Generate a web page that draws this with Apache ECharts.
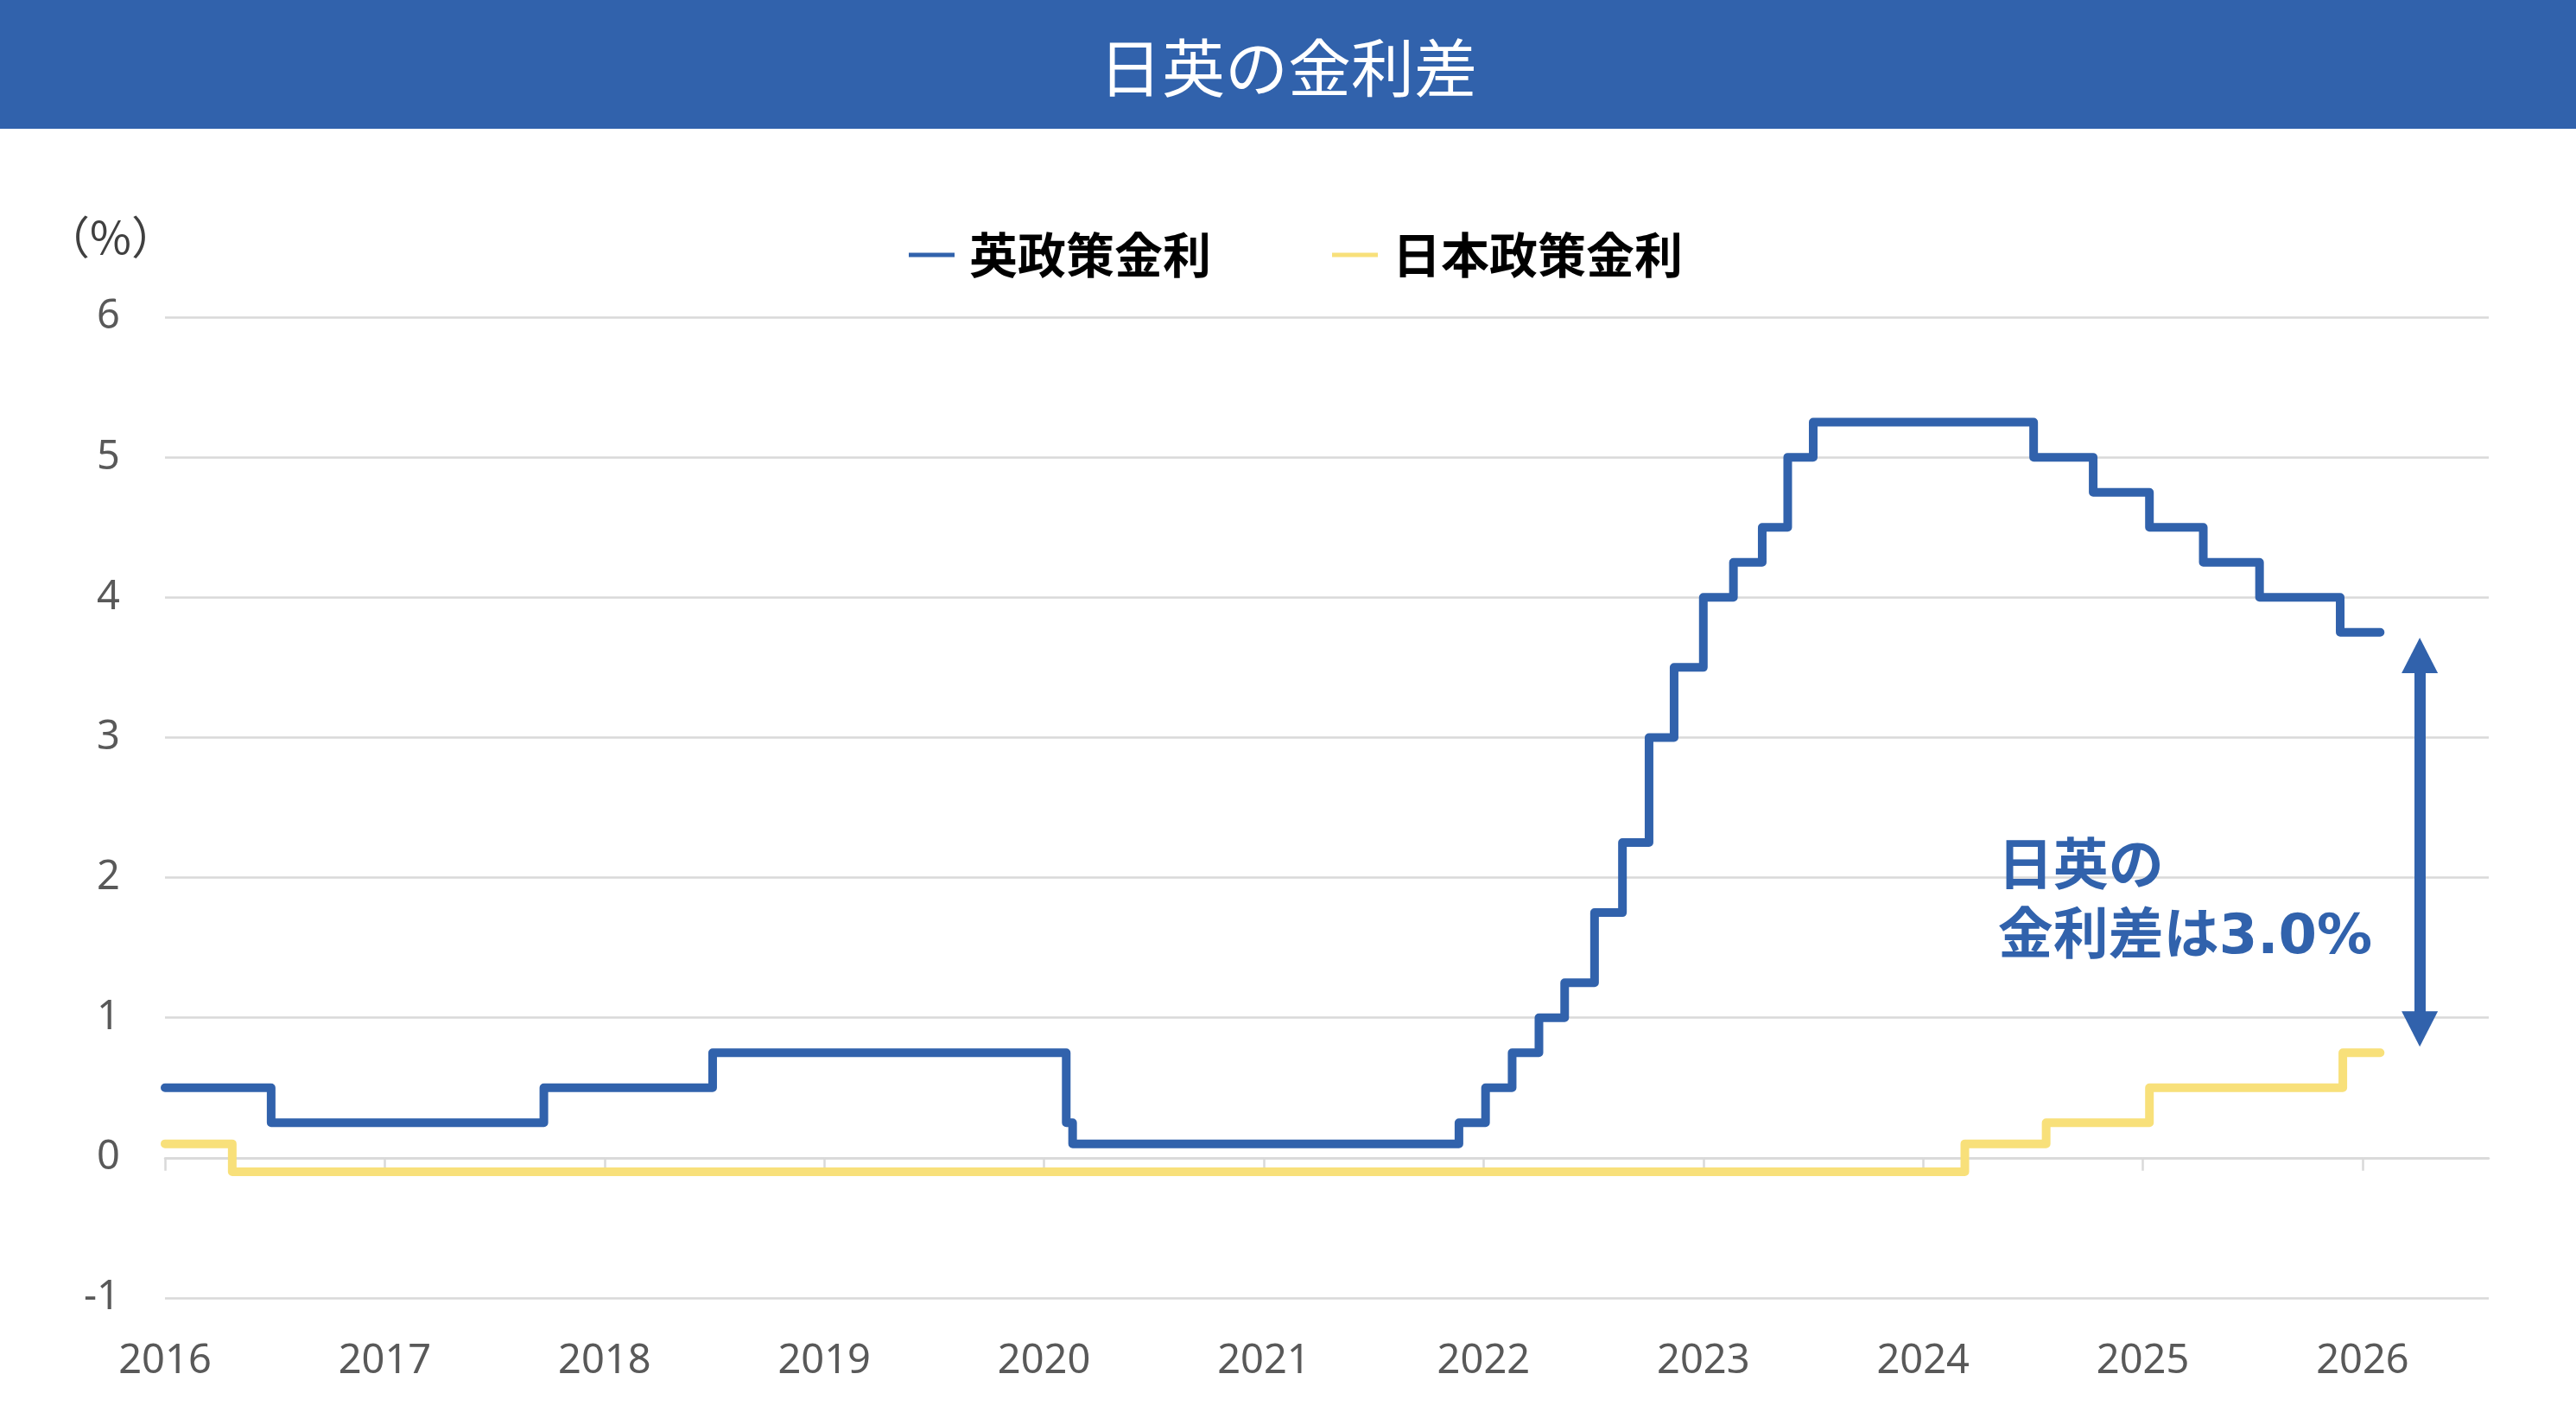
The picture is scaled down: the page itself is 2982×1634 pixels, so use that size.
<!DOCTYPE html>
<html><head><meta charset="utf-8">
<script src="https://cdn.jsdelivr.net/npm/echarts@6/dist/echarts.min.js"></script>
<style>html,body{margin:0;padding:0;background:#fff}#c{width:2982px;height:1634px}</style>
</head><body><div id="c"></div>
<script>
// ---- data (decimal years) ----
const yearTicks = [2016, 2017, 2018, 2019, 2020, 2021, 2022, 2023, 2024, 2025, 2026];
const ukDates = [2016.0, 2016.483, 2017.724, 2018.492, 2020.101, 2020.13, 2021.888, 2022.009, 2022.13, 2022.252, 2022.369, 2022.505, 2022.632, 2022.753, 2022.867, 2023.0, 2023.137, 2023.268, 2023.384, 2023.5, 2024.503, 2024.774, 2025.03, 2025.275, 2025.531, 2025.898, 2026.08];
const ukRates = [0.5, 0.25, 0.5, 0.75, 0.25, 0.1, 0.25, 0.5, 0.75, 1.0, 1.25, 1.75, 2.25, 3.0, 3.5, 4.0, 4.25, 4.5, 5.0, 5.25, 5.0, 4.75, 4.5, 4.25, 4.0, 3.75, 3.75];
const jpDates = [2016.0, 2016.306, 2024.19, 2024.56, 2025.03, 2025.91, 2026.08];
const jpRates = [0.1, -0.1, 0.1, 0.25, 0.5, 0.75, 0.75];
const seriesNames = ['英政策金利', '日本政策金利'];
const titleText = '日英の金利差';
const unitText = '（%）';
const noteText = '日英の\n金利差は3.0%';
const gapArrow = { x: 2026.26, top: 3.585, bottom: 0.92 };
const notePos = { x: 2024.34, y: 1.81 };

const BLUE = '#3162ac', YELLOW = '#f8e07a', GRID = '#d9d9d9', LABEL = '#595959';
const CJK = "'Noto Sans CJK JP', 'Noto Sans', sans-serif";
const NUM = "'Noto Sans', 'Noto Sans CJK JP', sans-serif";
const xMin = 2016, xMax = 2026.574;

const pair = (xs, ys) => xs.map((x, i) => [x, ys[i]]);

const chart = echarts.init(document.getElementById('c'), null, { renderer: 'canvas' });
chart.setOption({
  backgroundColor: '#fff',
  animation: false,
  title: {
    text: titleText, left: 'center', top: 42, padding: 0,
    textStyle: { color: '#fff', fontSize: 73, fontWeight: 'normal', fontFamily: CJK }
  },
  legend: {
    data: seriesNames, left: 1052, top: 267, icon: 'rect', padding: 0,
    itemWidth: 53, itemHeight: 5, itemGap: 140,
    textStyle: { fontSize: 56, fontWeight: 'bold', color: '#000', fontFamily: CJK, padding: [0, 0, 0, 12] }
  },
  grid: { left: 191, right: 101, top: 367, bottom: 132, containLabel: false },
  xAxis: [
    {
      type: 'value', min: xMin, max: xMax,
      axisLine: { show: true, onZero: true, lineStyle: { color: GRID, width: 2.5 } },
      axisTick: { show: true, customValues: yearTicks, length: 15, lineStyle: { color: GRID, width: 2.5 } },
      axisLabel: { show: false },
      splitLine: { show: false }
    },
    {
      type: 'value', min: xMin, max: xMax, position: 'bottom',
      axisLine: { show: false, onZero: false },
      axisTick: { show: false },
      splitLine: { show: false },
      axisLabel: {
        show: true, customValues: yearTicks, margin: 50,
        fontSize: 47, color: LABEL, fontFamily: NUM,
        formatter: v => String(Math.round(v))
      }
    }
  ],
  yAxis: {
    type: 'value', min: -1, max: 6, interval: 1,
    axisLine: { show: false }, axisTick: { show: false },
    splitLine: { show: true, lineStyle: { color: GRID, width: 2.5 } },
    axisLabel: { margin: 52, fontSize: 47, color: LABEL, fontFamily: NUM }
  },
  series: [
    {
      name: seriesNames[0], type: 'line', step: 'end', data: pair(ukDates, ukRates),
      showSymbol: false, symbol: 'none', z: 3,
      lineStyle: { color: BLUE, width: 10, join: 'round', cap: 'round' },
      itemStyle: { color: BLUE },
      markLine: {
        silent: true, symbol: ['triangle', 'triangle'], symbolSize: [42, 41],
        lineStyle: { color: BLUE, width: 13, type: 'solid' },
        label: { show: false },
        data: [[{ coord: [gapArrow.x, gapArrow.top] }, { coord: [gapArrow.x, gapArrow.bottom] }]]
      }
    },
    {
      name: seriesNames[1], type: 'line', step: 'end', data: pair(jpDates, jpRates),
      showSymbol: false, symbol: 'none', z: 2,
      lineStyle: { color: YELLOW, width: 10, join: 'round', cap: 'round' },
      itemStyle: { color: YELLOW }
    }
  ]
});

const np = chart.convertToPixel({ xAxisIndex: 0, yAxisIndex: 0 }, [notePos.x, notePos.y]);
chart.setOption({
  graphic: [
    { type: 'rect', z: -1, shape: { x: 0, y: 0, width: 2982, height: 149 }, style: { fill: BLUE } },
    { type: 'text', x: 52, y: 274, style: { text: unitText, fill: '#404040', fontSize: 52, fontFamily: CJK, verticalAlign: 'middle' } },
    { type: 'text', x: np[0], y: np[1], style: {
        text: noteText, fill: BLUE, fontSize: 64, fontWeight: 'bold', lineHeight: 80,
        fontFamily: "'DejaVu Sans', 'Noto Sans CJK JP', sans-serif", verticalAlign: 'middle', align: 'left' } }
  ]
});
</script></body></html>
